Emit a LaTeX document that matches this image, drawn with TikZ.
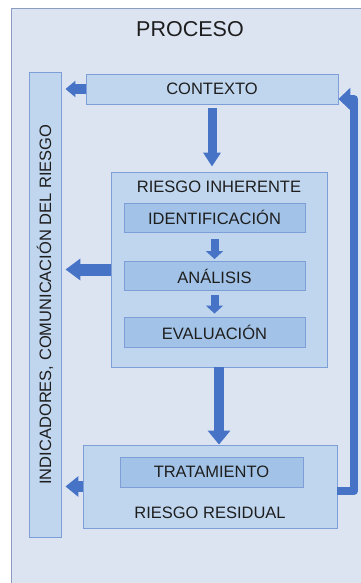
\documentclass[tikz,border=0pt]{standalone}
\usepackage{fontspec}
\setmainfont{Liberation Sans}
\usetikzlibrary{arrows.meta}
\definecolor{bgfill}{HTML}{DCE4F2}
\definecolor{bgline}{HTML}{8C9CC0}
\definecolor{boxfill}{HTML}{C0D6EF}
\definecolor{innerfill}{HTML}{A2C3E7}
\definecolor{boxline}{HTML}{7D9ED6}
\definecolor{arrowblue}{HTML}{4673C6}
\definecolor{txt}{HTML}{1E1E1E}

\begin{document}
\begin{tikzpicture}[x=1pt,y=-1pt,font=\fontsize{16.5}{18}\selectfont,text=txt]
\tikzstyle{v}=[rectangle,draw=boxline,fill=boxfill,line width=0.9pt,inner sep=0pt]
\tikzstyle{w}=[v,fill=innerfill]
\tikzstyle{la}=[draw=arrowblue,line width=11pt,-{Triangle[width=20pt,length=13pt]},shorten >=4pt]
\tikzstyle{da}=[draw=arrowblue,line width=9pt,-{Triangle[width=17pt,length=14pt]}]
\tikzstyle{sa}=[draw=arrowblue,line width=8pt,-{Triangle[width=17pt,length=8pt]},shorten <=7pt,shorten >=2pt]

\useasboundingbox (0,0) rectangle (361,583);
\fill[bgfill] (11,8) rectangle (361,583);
\draw[bgline,line width=0.8pt] (11,583) -- (11,8) -- (361,8);

\node (title) at (190,29) {\fontsize{21.5}{23}\selectfont PROCESO};

\node[v,minimum width=465pt,minimum height=32pt,rotate=90] (ind) at (45,304.5) {INDICADORES, COMUNICACIÓN DEL RIESGO};

\node[v,minimum width=252pt,minimum height=30pt] (ctx) at (212,89) {CONTEXTO};

\node[v,minimum width=216pt,minimum height=195pt] (inh) at (219,269.5) {};
\node (inhlbl) at (219,187) {RIESGO INHERENTE};
\node[w,minimum width=181pt,minimum height=29pt] (ident) at (214.5,217.5) {IDENTIFICACIÓN};
\node[w,minimum width=181pt,minimum height=29pt] (anal) at (214.5,276) {ANÁLISIS};
\node[w,minimum width=181pt,minimum height=30pt] (eval) at (214.5,332) {EVALUACIÓN};

\node[v,minimum width=254pt,minimum height=83pt] (res) at (210,486.5) {};
\node[w,minimum width=183pt,minimum height=30pt] (trat) at (211.5,472) {TRATAMIENTO};
\node (reslbl) at (210,513) {RIESGO RESIDUAL};

% flechas hacia indicadores
\path (ctx.west) edge[la,line width=10pt,-{Triangle[width=16pt,length=10pt]}] (ctx.west -| ind.south);
\path (inh.west) edge[la,line width=12pt,-{Triangle[width=21pt,length=15pt]}] (inh.west -| ind.south);
\path (res.west) edge[la] (res.west -| ind.south);

% flujo principal
\path (ctx.south) edge[da,shorten <=4pt,shorten >=5pt] (ctx.south |- inh.north);
\path (ident.south) edge[sa] (anal.north);
\path (anal.south) edge[sa,shorten <=4pt,shorten >=3pt] (eval.north);
\path (inh.south) edge[da,line width=10pt,-{Triangle[width=22pt,length=14pt]}] (inh.south |- res.north);

% retroalimentacion
\coordinate (fb) at (354,300);
\draw[arrowblue,line width=8pt,line join=round,-{Triangle[width=22pt,length=12pt]}] ([yshift=-4.5pt]res.east) -| (fb) |- ([yshift=-10pt]ctx.east);
\end{tikzpicture}
\end{document}
